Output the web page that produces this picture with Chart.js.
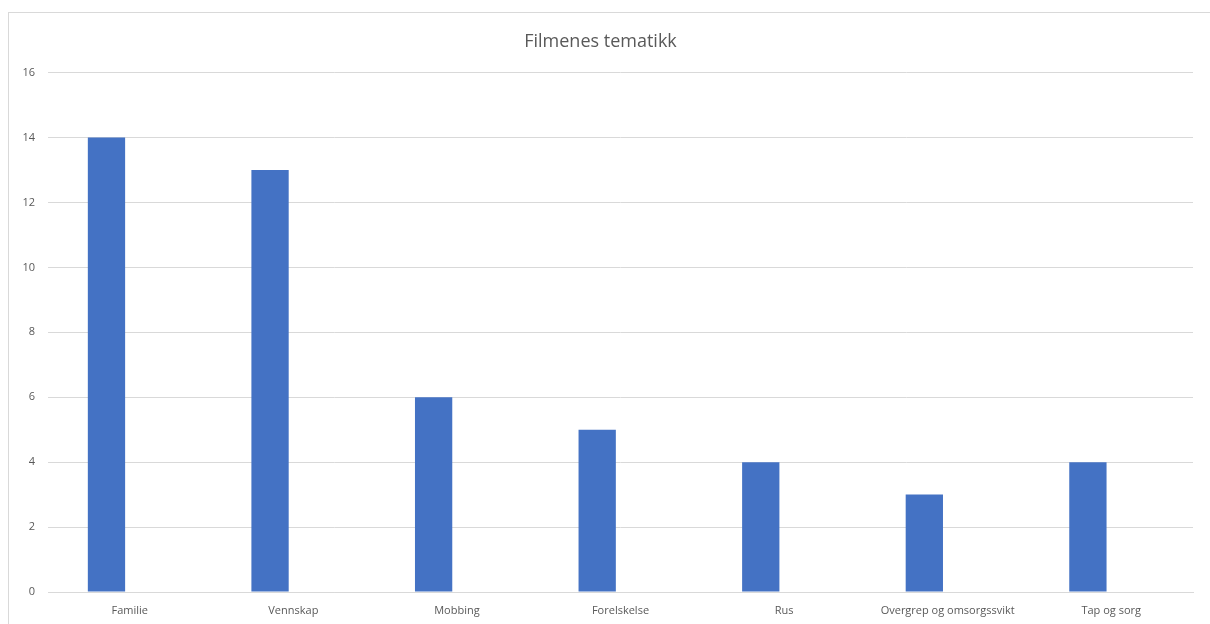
<!DOCTYPE html>
<html>
<head>
<meta charset="utf-8">
<script src="https://cdn.jsdelivr.net/npm/chart.js@4"></script>
<style>
  html, body { margin: 0; padding: 0; background: #fff; }
  #wrap { position: relative; width: 1210px; height: 624px; overflow: hidden; }
  #frame { position: absolute; left: 8px; top: 12px; width: 1300px; height: 700px; border: 1px solid #d9d9d9; box-sizing: border-box; }
  canvas { position: absolute; left: 0; top: 0; }
</style>
</head>
<body>
<div id="wrap">
  <div id="frame"></div>
  <canvas id="myChart" width="1210" height="624"></canvas>
</div>
<script>
const tema = ['Familie', 'Vennskap', 'Mobbing', 'Forelskelse', 'Rus', 'Overgrep og omsorgssvikt', 'Tap og sorg'];
const antall = [14, 13, 6, 5, 4, 3, 4];
// tom andre serie i originalen (setter søylene til venstre for etiketten)
const tomSerie = [null, null, null, null, null, null, null];
const yTicks = [0, 2, 4, 6, 8, 10, 12, 14, 16];

const grå = '#595959';

function pintar() {
  const ctx = document.getElementById('myChart').getContext('2d');
  new Chart(ctx, {
    type: 'bar',
    data: {
      labels: tema,
      datasets: [{
        label: 'Antall',
        data: antall,
        backgroundColor: '#4472C4',
        borderWidth: 0,
        barPercentage: 0.8,
        categoryPercentage: 0.57
      }, {
        label: 'Serie 2',
        data: tomSerie,
        backgroundColor: '#ED7D31',
        borderWidth: 0,
        barPercentage: 0.8,
        categoryPercentage: 0.57
      }]
    },
    options: {
      responsive: false,
      animation: false,
      layout: { padding: { left: 8, right: 17, top: 12, bottom: 0 } },
      plugins: {
        legend: { display: false },
        tooltip: { enabled: false },
        title: {
          display: true,
          text: 'Filmenes tematikk',
          color: grå,
          font: { family: 'Open Sans', size: 18, weight: 'normal', lineHeight: 1.2 },
          padding: { top: 19, bottom: 20 }
        }
      },
      scales: {
        x: {
          grid: { display: false, drawTicks: false },
          border: { color: '#d9d9d9' },
          ticks: { color: grå, padding: 12, maxRotation: 0, font: { family: 'Open Sans', size: 11 } },
          afterFit: s => { s.height = 32; }
        },
        y: {
          min: 0,
          max: 16,
          afterBuildTicks: s => { s.ticks = yTicks.map(v => ({ value: v })); },
          grid: { color: '#d9d9d9', drawTicks: false },
          border: { display: false },
          ticks: { color: grå, padding: 13, font: { family: 'Open Sans', size: 11 } },
          afterFit: s => { s.width = 40; }
        }
      }
    }
  });
}
pintar();
</script>
</body>
</html>
